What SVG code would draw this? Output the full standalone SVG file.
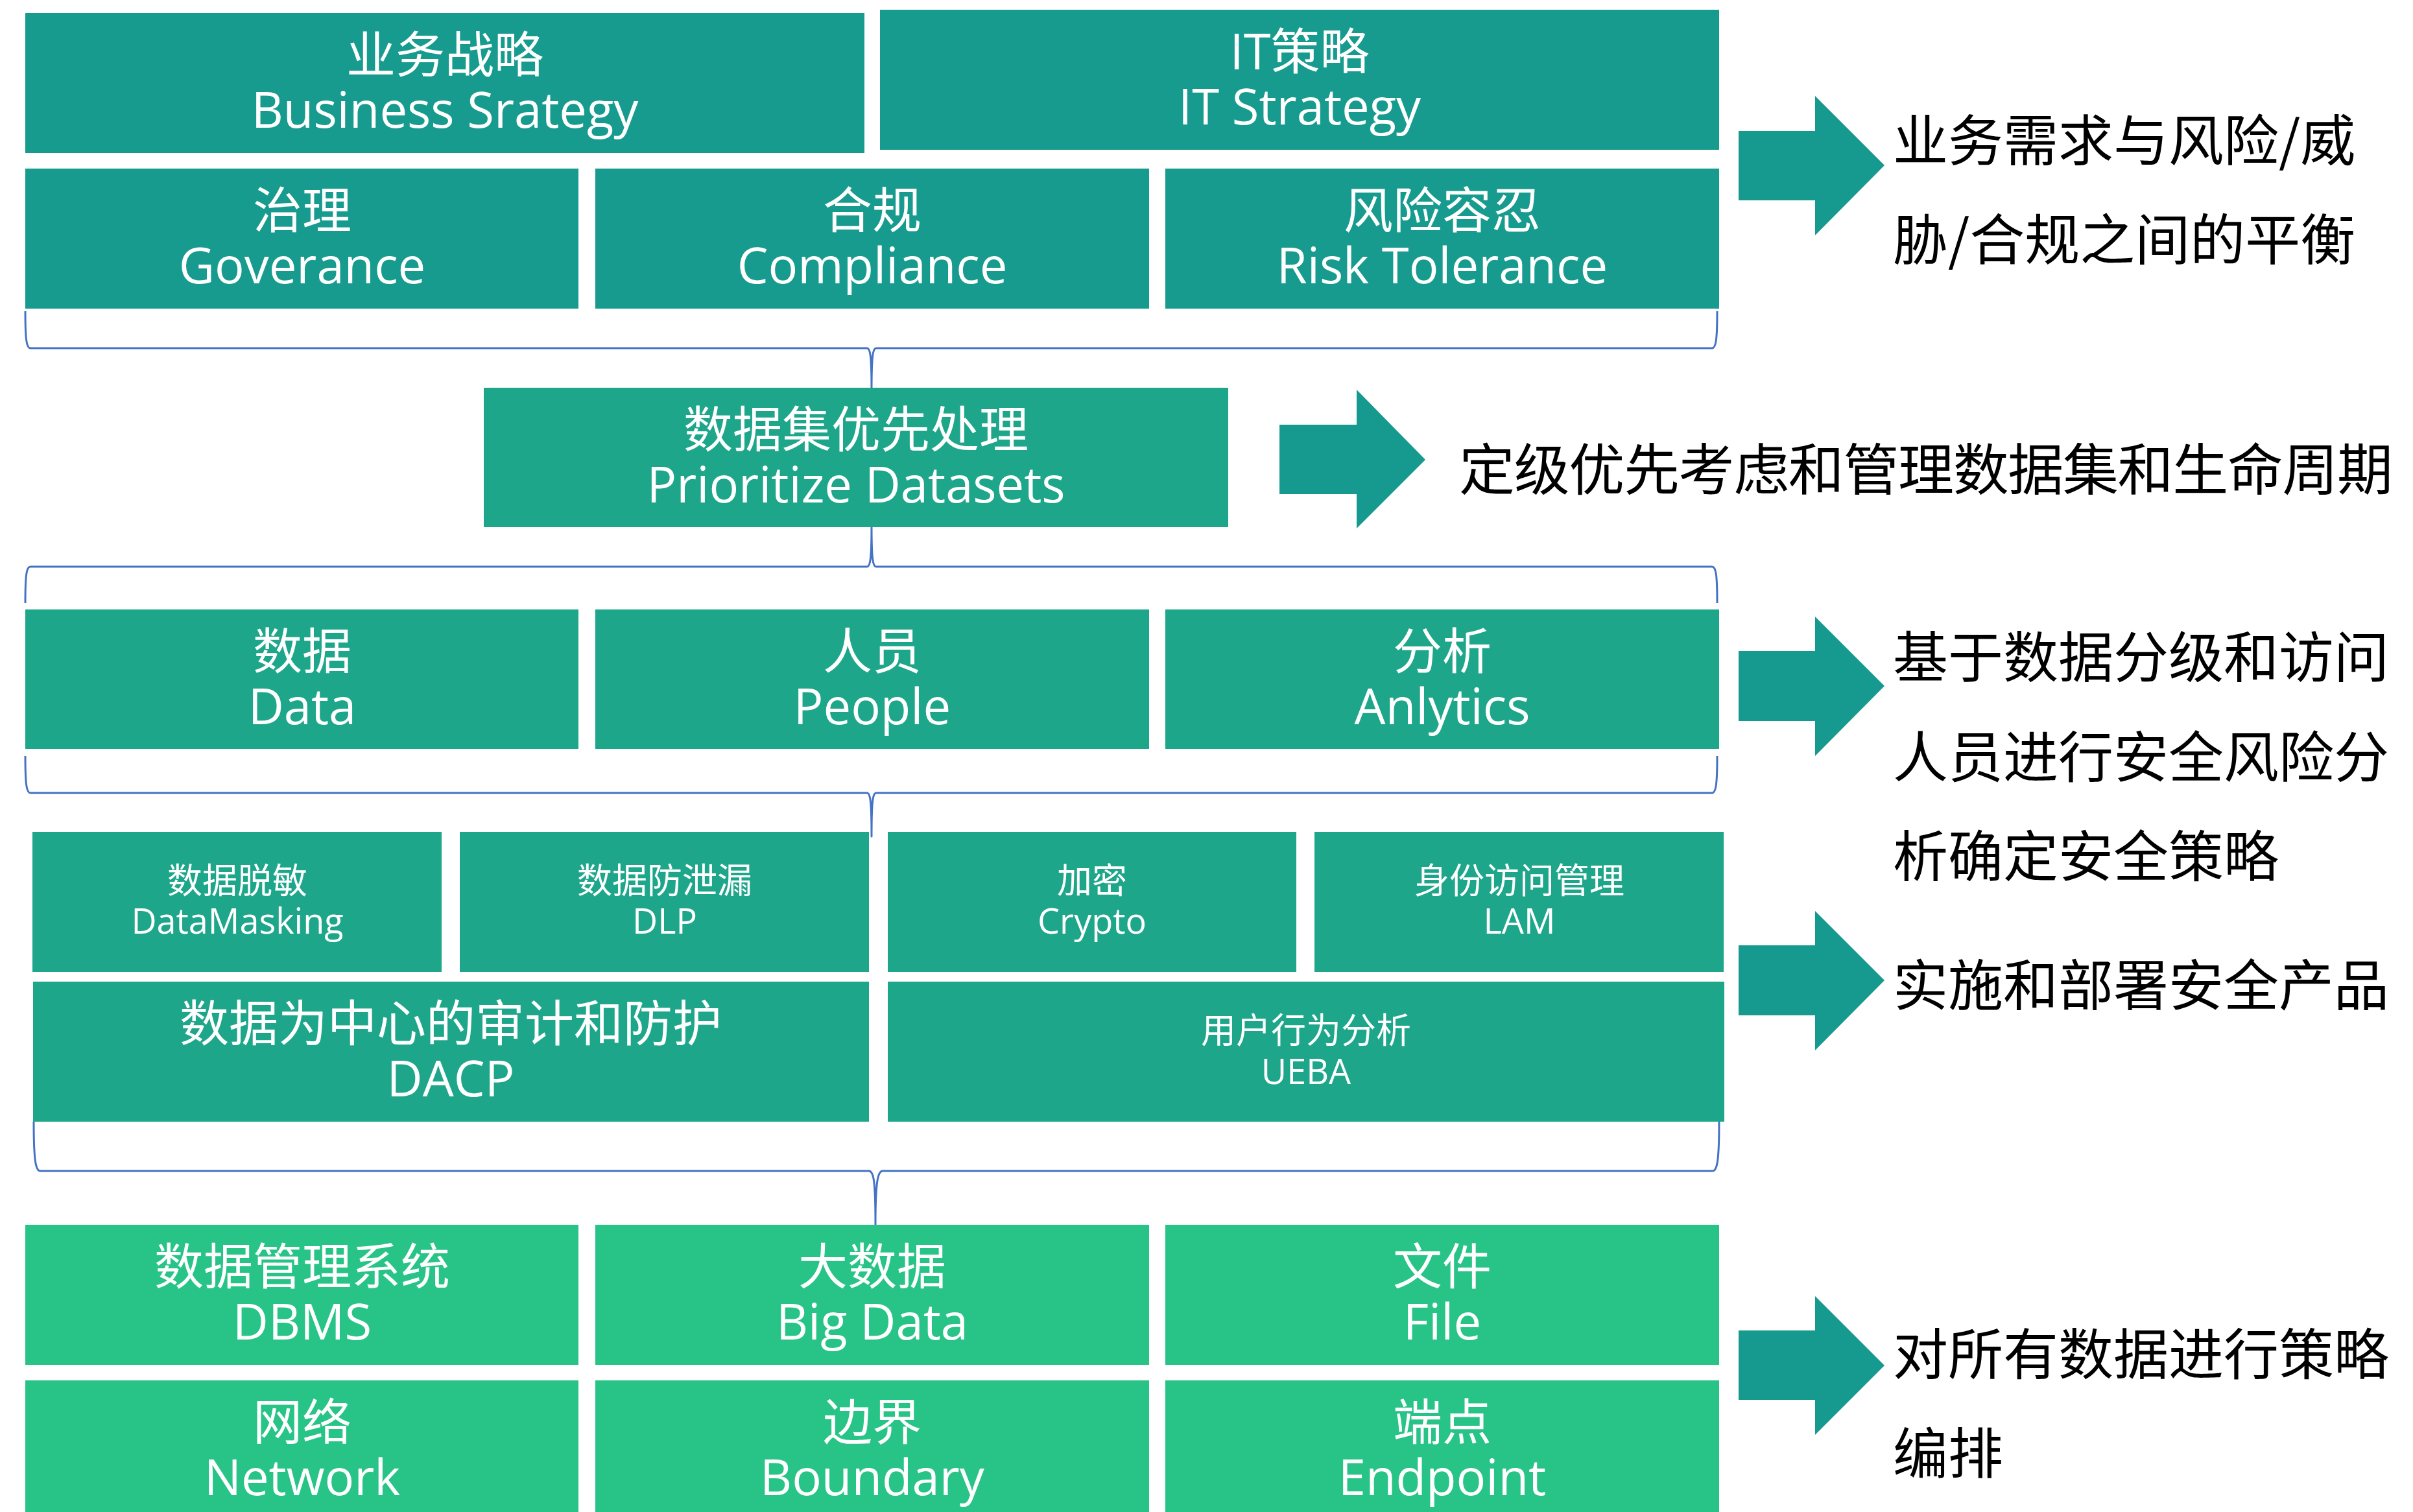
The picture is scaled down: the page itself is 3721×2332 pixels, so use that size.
<svg xmlns="http://www.w3.org/2000/svg" width="3721" height="2332" viewBox="0 0 3721 2332">
<defs>
<style>
.t1{fill:#179B8F}
.t2{fill:#1EA68B}
.t3{fill:#28C487}
.arr{fill:#16998F}
.brace{fill:none;stroke:#4472C4;stroke-width:3;stroke-linejoin:round}
.bt{font-family:"Open Sans","Noto Sans CJK SC",sans-serif;font-size:76px;fill:#FFFFFF;text-anchor:middle}
.st{font-family:"Open Sans","Noto Sans CJK SC",sans-serif;font-size:54px;fill:#FFFFFF;text-anchor:middle}
.rt{font-family:"Noto Sans CJK SC",sans-serif;font-size:85px;fill:#000000}
</style>
</defs>
<rect width="3721" height="2332" fill="#FFFFFF"/>
<g id="connectors">
<path class="brace" d="M39,480 C39,525 41,537 47,537 L1337,537 C1342,537 1344,548 1344,604 C1344,548 1346,537 1351,537 L2640,537 C2646,537 2648,525 2648,480"/>
<path class="brace" d="M39,930 C39,885 41,874 47,874 L1337,874 C1342,874 1344,862 1344,810 C1344,862 1346,874 1351,874 L2640,874 C2646,874 2648,885 2648,930"/>
<path class="brace" d="M39,1166 C39,1211 41,1223 47,1223 L1337,1223 C1342,1223 1344,1235 1344,1290 C1344,1235 1346,1223 1351,1223 L2640,1223 C2646,1223 2648,1211 2648,1166"/>
<path class="brace" d="M52,1730 C52,1790 55,1806 62,1806 L1340,1806 C1347,1806 1350,1820 1350,1889 C1350,1820 1354,1806 1361,1806 L2641,1806 C2648,1806 2651,1790 2651,1730"/>
</g>
<g id="business-strategy"><rect class="t1" x="39" y="20" width="1294" height="216"/><text class="bt" x="686" y="112">业务战略</text><text class="bt" x="686" y="197">Business Srategy</text></g>
<g id="it-strategy"><rect class="t1" x="1357" y="15" width="1294" height="216"/><text class="bt" x="2004" y="107">IT策略</text><text class="bt" x="2004" y="192">IT Strategy</text></g>
<g id="governance"><rect class="t1" x="39" y="260" width="853" height="216"/><text class="bt" x="466" y="352">治理</text><text class="bt" x="466" y="437">Goverance</text></g>
<g id="compliance"><rect class="t1" x="918" y="260" width="854" height="216"/><text class="bt" x="1345" y="352">合规</text><text class="bt" x="1345" y="437">Compliance</text></g>
<g id="risk-tolerance"><rect class="t1" x="1797" y="260" width="854" height="216"/><text class="bt" x="2224" y="352">风险容忍</text><text class="bt" x="2224" y="437">Risk Tolerance</text></g>
<g id="prioritize"><rect class="t2" x="746" y="598" width="1148" height="215"/><text class="bt" x="1320" y="690">数据集优先处理</text><text class="bt" x="1320" y="775">Prioritize Datasets</text></g>
<g id="data"><rect class="t2" x="39" y="940" width="853" height="215"/><text class="bt" x="466" y="1032">数据</text><text class="bt" x="466" y="1117">Data</text></g>
<g id="people"><rect class="t2" x="918" y="940" width="854" height="215"/><text class="bt" x="1345" y="1032">人员</text><text class="bt" x="1345" y="1117">People</text></g>
<g id="analytics"><rect class="t2" x="1797" y="940" width="854" height="215"/><text class="bt" x="2224" y="1032">分析</text><text class="bt" x="2224" y="1117">Anlytics</text></g>
<g id="datamasking"><rect class="t2" x="50" y="1283" width="631" height="216"/><text class="st" x="366" y="1378">数据脱敏</text><text class="st" x="366" y="1440">DataMasking</text></g>
<g id="dlp"><rect class="t2" x="709" y="1283" width="631" height="216"/><text class="st" x="1025" y="1378">数据防泄漏</text><text class="st" x="1025" y="1440">DLP</text></g>
<g id="crypto"><rect class="t2" x="1369" y="1283" width="630" height="216"/><text class="st" x="1684" y="1378">加密</text><text class="st" x="1684" y="1440">Crypto</text></g>
<g id="lam"><rect class="t2" x="2027" y="1283" width="631" height="216"/><text class="st" x="2343" y="1378">身份访问管理</text><text class="st" x="2343" y="1440">LAM</text></g>
<g id="dacp"><rect class="t2" x="51" y="1514" width="1289" height="216"/><text class="bt" x="695" y="1606">数据为中心的审计和防护</text><text class="bt" x="695" y="1691">DACP</text></g>
<g id="ueba"><rect class="t2" x="1369" y="1514" width="1290" height="216"/><text class="st" x="2014" y="1609">用户行为分析</text><text class="st" x="2014" y="1672">UEBA</text></g>
<g id="dbms"><rect class="t3" x="39" y="1889" width="853" height="216"/><text class="bt" x="466" y="1981">数据管理系统</text><text class="bt" x="466" y="2066">DBMS</text></g>
<g id="bigdata"><rect class="t3" x="918" y="1889" width="854" height="216"/><text class="bt" x="1345" y="1981">大数据</text><text class="bt" x="1345" y="2066">Big Data</text></g>
<g id="file"><rect class="t3" x="1797" y="1889" width="854" height="216"/><text class="bt" x="2224" y="1981">文件</text><text class="bt" x="2224" y="2066">File</text></g>
<g id="network"><rect class="t3" x="39" y="2129" width="853" height="216"/><text class="bt" x="466" y="2221">网络</text><text class="bt" x="466" y="2306">Network</text></g>
<g id="boundary"><rect class="t3" x="918" y="2129" width="854" height="216"/><text class="bt" x="1345" y="2221">边界</text><text class="bt" x="1345" y="2306">Boundary</text></g>
<g id="endpoint"><rect class="t3" x="1797" y="2129" width="854" height="216"/><text class="bt" x="2224" y="2221">端点</text><text class="bt" x="2224" y="2306">Endpoint</text></g>
<g id="note-balance"><polygon class="arr" points="2681,202 2799,202 2799,148 2906,255 2799,363 2799,309 2681,309"/><text class="rt" x="2919" y="248">业务需求与风险/威</text><text class="rt" x="2919" y="401">胁/合规之间的平衡</text></g>
<g id="note-prioritize"><polygon class="arr" points="1973,655 2092,655 2092,601 2198,709 2092,815 2092,762 1973,762"/><text class="rt" x="2250" y="756" style="font-size:86px" textLength="1440" lengthAdjust="spacing">定级优先考虑和管理数据集和生命周期</text></g>
<g id="note-risk"><polygon class="arr" points="2681,1004 2799,1004 2799,951 2906,1058 2799,1166 2799,1112 2681,1112"/><text class="rt" x="2919" y="1045">基于数据分级和访问</text><text class="rt" x="2919" y="1199">人员进行安全风险分</text><text class="rt" x="2919" y="1352">析确定安全策略</text></g>
<g id="note-deploy"><polygon class="arr" points="2681,1458 2799,1458 2799,1405 2906,1512 2799,1620 2799,1566 2681,1566"/><text class="rt" x="2919" y="1551">实施和部署安全产品</text></g>
<g id="note-orchestrate"><polygon class="arr" points="2681,2052 2799,2052 2799,1999 2906,2106 2799,2213 2799,2159 2681,2159"/><text class="rt" x="2919" y="2120">对所有数据进行策略</text><text class="rt" x="2919" y="2273">编排</text></g>
</svg>
